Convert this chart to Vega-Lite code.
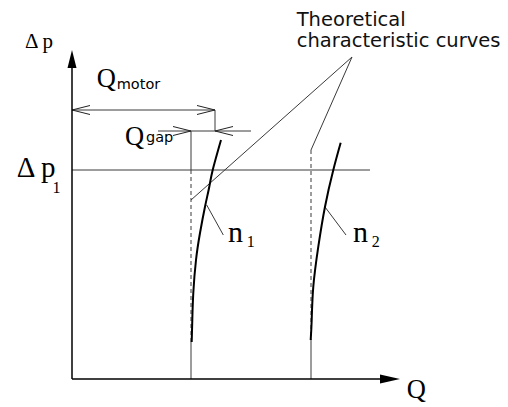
{
  "$schema": "https://vega.github.io/schema/vega-lite/v6.json",
  "width": 508,
  "height": 407,
  "autosize": {"type": "none"},
  "padding": 0,
  "background": "white",
  "config": {"view": {"stroke": null}},
  "datasets": {
    "axes": [
      {"Q": 0, "P": 0, "Q2": 312, "P2": 0},
      {"Q": 0, "P": 0, "Q2": 0, "P2": 314}
    ],
    "heads": [
      {"axis": "Q", "Q": 318, "P": 0},
      {"axis": "dp", "Q": 0, "P": 320}
    ],
    "guides": [
      {"name": "dp1 level", "Q": 0, "P": 209, "Q2": 298, "P2": 209},
      {"name": "Q motor span", "Q": 0, "P": 269, "Q2": 143, "P2": 269},
      {"name": "Q motor end", "Q": 143, "P": 269, "Q2": 143, "P2": 248},
      {"name": "Q gap span", "Q": 86, "P": 248, "Q2": 179, "P2": 248},
      {"name": "n1 theory top", "Q": 119, "P": 248, "Q2": 119, "P2": 209},
      {"name": "n1 theory base", "Q": 119, "P": 0, "Q2": 119, "P2": 37},
      {"name": "n2 theory base", "Q": 239, "P": 0, "Q2": 239, "P2": 37},
      {"name": "note to n1 theory", "Q": 280, "P": 322, "Q2": 119, "P2": 179},
      {"name": "note to n2 theory", "Q": 280, "P": 322, "Q2": 239, "P2": 229},
      {"name": "n1 leader", "Q": 134.7, "P": 174, "Q2": 151.3, "P2": 144},
      {"name": "n2 leader", "Q": 253, "P": 172, "Q2": 274, "P2": 144}
    ],
    "theory": [
      {"curve": "n1", "Q": 119, "P": 209, "Q2": 119, "P2": 37},
      {"curve": "n2", "Q": 239, "P": 229, "Q2": 239, "P2": 37}
    ],
    "chevrons": [
      {"Q": 0, "P": 269, "Q2": 18, "P2": 273.5},
      {"Q": 0, "P": 269, "Q2": 18, "P2": 264.5},
      {"Q": 143, "P": 269, "Q2": 125, "P2": 273.5},
      {"Q": 143, "P": 269, "Q2": 125, "P2": 264.5},
      {"Q": 119, "P": 248, "Q2": 101, "P2": 252.5},
      {"Q": 119, "P": 248, "Q2": 101, "P2": 243.5},
      {"Q": 143, "P": 248, "Q2": 161, "P2": 252.5},
      {"Q": 143, "P": 248, "Q2": 161, "P2": 243.5}
    ],
    "curves": [
      {"curve": "n1", "k": 1, "Q": 149, "P": 239},
      {"curve": "n1", "k": 2, "Q": 140.7, "P": 209},
      {"curve": "n1", "k": 3, "Q": 137.3, "P": 192.3},
      {"curve": "n1", "k": 4, "Q": 133, "P": 172.3},
      {"curve": "n1", "k": 5, "Q": 128, "P": 146},
      {"curve": "n1", "k": 6, "Q": 124, "P": 119},
      {"curve": "n1", "k": 7, "Q": 121.3, "P": 86},
      {"curve": "n1", "k": 8, "Q": 120.3, "P": 59},
      {"curve": "n1", "k": 9, "Q": 119.7, "P": 37},
      {"curve": "n2", "k": 1, "Q": 268.7, "P": 236.3},
      {"curve": "n2", "k": 2, "Q": 261.3, "P": 209},
      {"curve": "n2", "k": 3, "Q": 253, "P": 172.3},
      {"curve": "n2", "k": 4, "Q": 246.3, "P": 132.3},
      {"curve": "n2", "k": 5, "Q": 241.3, "P": 92.3},
      {"curve": "n2", "k": 6, "Q": 239.7, "P": 59},
      {"curve": "n2", "k": 7, "Q": 238.7, "P": 39}
    ],
    "labels": [
      {"group": "dp", "text": "Δ p", "Q": -47, "P": 331},
      {"group": "dp1", "text": "Δ p", "Q": -55.3, "P": 202.3},
      {"group": "sub", "text": "1", "Q": -19.5, "P": 186},
      {"group": "Q", "text": "Q", "Q": 24.7, "P": 292.3},
      {"group": "unit", "text": "motor", "Q": 44.7, "P": 290},
      {"group": "Q", "text": "Q", "Q": 53, "P": 234},
      {"group": "unit", "text": "gap", "Q": 74, "P": 237.5},
      {"group": "n", "text": "n", "Q": 156, "P": 137.3},
      {"group": "sub", "text": "1", "Q": 174.7, "P": 132},
      {"group": "n", "text": "n", "Q": 281, "P": 137.3},
      {"group": "sub", "text": "2", "Q": 299.7, "P": 131.7},
      {"group": "Q", "text": "Q", "Q": 334.7, "P": -19},
      {"group": "note", "text": "Theoretical", "Q": 224.7, "P": 353},
      {"group": "note", "text": "characteristic curves", "Q": 224.7, "P": 332.3}
    ]
  },
  "encoding": {
    "x": {"field": "Q", "type": "quantitative", "axis": null, "scale": {"domain": [-72, 436], "nice": false, "zero": false}},
    "y": {"field": "P", "type": "quantitative", "axis": null, "scale": {"domain": [-28, 379], "nice": false, "zero": false}}
  },
  "layer": [
    {
      "data": {"name": "guides"},
      "mark": {"type": "rule", "stroke": "#3a3a3a", "strokeWidth": 1},
      "encoding": {"x2": {"field": "Q2"}, "y2": {"field": "P2"}}
    },
    {
      "data": {"name": "theory"},
      "mark": {"type": "rule", "stroke": "#3a3a3a", "strokeWidth": 1, "strokeDash": [4, 3]},
      "encoding": {"x2": {"field": "Q2"}, "y2": {"field": "P2"}}
    },
    {
      "data": {"name": "chevrons"},
      "mark": {"type": "rule", "stroke": "#222222", "strokeWidth": 1},
      "encoding": {"x2": {"field": "Q2"}, "y2": {"field": "P2"}}
    },
    {
      "data": {"name": "curves"},
      "mark": {"type": "line", "stroke": "black", "strokeWidth": 2, "interpolate": "natural"},
      "encoding": {"detail": {"field": "curve"}, "order": {"field": "k"}}
    },
    {
      "data": {"name": "axes"},
      "mark": {"type": "rule", "stroke": "black", "strokeWidth": 1.5},
      "encoding": {"x2": {"field": "Q2"}, "y2": {"field": "P2"}}
    },
    {
      "data": {"name": "heads"},
      "transform": [{"filter": "datum.axis === 'Q'"}],
      "mark": {"type": "point", "shape": "M1,0L-1,-0.45L-1,0.45Z", "size": 400, "filled": true, "color": "black", "opacity": 1}
    },
    {
      "data": {"name": "heads"},
      "transform": [{"filter": "datum.axis === 'dp'"}],
      "mark": {"type": "point", "shape": "M0,-1L0.5,1L-0.5,1Z", "size": 324, "filled": true, "color": "black", "opacity": 1}
    },
    {
      "data": {"name": "labels"},
      "transform": [{"filter": "datum.group === 'dp'"}],
      "mark": {"type": "text", "font": "Liberation Serif", "fontSize": 21, "align": "left", "baseline": "alphabetic", "color": "black"},
      "encoding": {"text": {"field": "text"}}
    },
    {
      "data": {"name": "labels"},
      "transform": [{"filter": "datum.group === 'dp1'"}],
      "mark": {"type": "text", "font": "Liberation Serif", "fontSize": 29, "align": "left", "baseline": "alphabetic", "color": "black"},
      "encoding": {"text": {"field": "text"}}
    },
    {
      "data": {"name": "labels"},
      "transform": [{"filter": "datum.group === 'Q'"}],
      "mark": {"type": "text", "font": "Liberation Serif", "fontSize": 26.5, "align": "left", "baseline": "alphabetic", "color": "black"},
      "encoding": {"text": {"field": "text"}}
    },
    {
      "data": {"name": "labels"},
      "transform": [{"filter": "datum.group === 'n'"}],
      "mark": {"type": "text", "font": "Liberation Serif", "fontSize": 30, "align": "left", "baseline": "alphabetic", "color": "black"},
      "encoding": {"text": {"field": "text"}}
    },
    {
      "data": {"name": "labels"},
      "transform": [{"filter": "datum.group === 'sub'"}],
      "mark": {"type": "text", "font": "Liberation Serif", "fontSize": 16, "align": "left", "baseline": "alphabetic", "color": "black"},
      "encoding": {"text": {"field": "text"}}
    },
    {
      "data": {"name": "labels"},
      "transform": [{"filter": "datum.group === 'unit'"}],
      "mark": {"type": "text", "font": "DejaVu Sans", "fontSize": 14.5, "align": "left", "baseline": "alphabetic", "color": "black"},
      "encoding": {"text": {"field": "text"}}
    },
    {
      "data": {"name": "labels"},
      "transform": [{"filter": "datum.group === 'note'"}],
      "mark": {"type": "text", "font": "DejaVu Sans", "fontSize": 19.5, "align": "left", "baseline": "alphabetic", "color": "#111111"},
      "encoding": {"text": {"field": "text"}}
    }
  ]
}
